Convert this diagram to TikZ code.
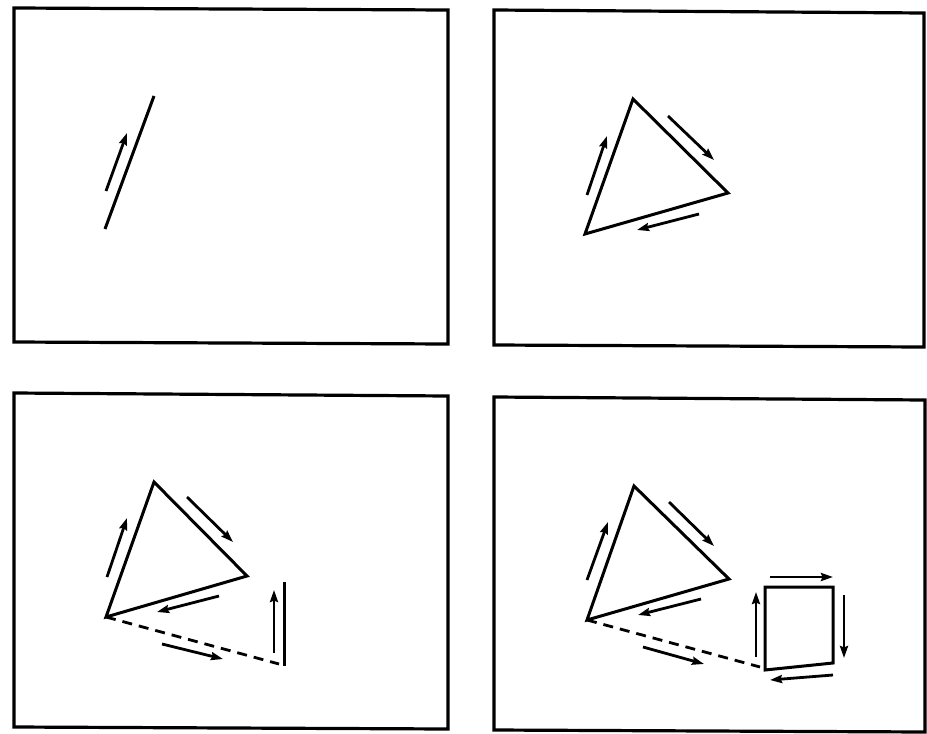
\documentclass[tikz,border=0pt]{standalone}
\usetikzlibrary{arrows.meta}
\begin{document}
\begin{tikzpicture}[x=1pt,y=-1pt,
  frame/.style={line width=3.2pt},
  figline/.style={line width=3pt,line join=miter},
  mv/.style={line width=2.8pt,-{Stealth[length=12pt,width=8pt,inset=1.5pt]}},
  dashline/.style={line width=2.8pt,dash pattern=on 10pt off 7pt}]
\useasboundingbox (0,0) rectangle (927,734);
% frames
\draw[frame] (14,8) -- (448,10) -- (448,344) -- (14,342) -- cycle;
\draw[frame] (494,10) -- (924,13) -- (924,347) -- (494,345) -- cycle;
\draw[frame] (14,393) -- (448,396) -- (448,729) -- (14,727) -- cycle;
\draw[frame] (494,397) -- (925,400) -- (925,732) -- (494,730) -- cycle;
% panel 1
\coordinate (p1a) at (105,229); \coordinate (p1b) at (154,96);
\draw[figline] (p1a) -- (p1b);
\coordinate (p1s) at (106,191); \coordinate (p1e) at (127,133);
\draw[mv] (p1s) -- (p1e);
% panel 2
\coordinate (t2a) at (633,99); \coordinate (t2b) at (728,193); \coordinate (t2c) at (585,234);
\draw[figline] (t2a) -- (t2b) -- (t2c) -- cycle;
\draw[mv] (587,195) -- (607,136);
\draw[mv] (668,116) -- (714,160);
\draw[mv] (699,214) -- (637,230);
% panel 3
\coordinate (t3a) at (154,482); \coordinate (t3b) at (247,576); \coordinate (t3c) at (106,617);
\draw[figline] (t3a) -- (t3b) -- (t3c) -- cycle;
\draw[mv] (107,577) -- (127,518);
\draw[mv] (187,497) -- (233,542);
\draw[mv] (219,596) -- (157,612);
\coordinate (d3) at (279,664);
\draw[dashline] (t3c) -- (d3);
\draw[mv] (162,644) -- (223,659);
\coordinate (v3a) at (284,582); \coordinate (v3b) at (284,666);
\draw[figline] (v3a) -- (v3b);
\draw[mv] (274,653) -- (274,590);
% panel 4
\coordinate (t4a) at (634,486); \coordinate (t4b) at (729,579); \coordinate (t4c) at (587,620);
\draw[figline] (t4a) -- (t4b) -- (t4c) -- cycle;
\draw[mv] (587,580) -- (608,522);
\draw[mv] (669,502) -- (714,546);
\draw[mv] (701,599) -- (638,615);
\coordinate (s4a) at (765,587); \coordinate (s4b) at (833,587);
\coordinate (s4c) at (833,663); \coordinate (s4d) at (765,670);
\draw[dashline] (t4c) -- (760,667);
\draw[mv] (643,647) -- (704,664);
\draw[figline] (s4a) -- (s4b) -- (s4c) -- (s4d) -- cycle;
\draw[mv] (770,577) -- (833,577);
\draw[mv] (844,595) -- (844,658);
\draw[mv] (833,675) -- (770,680);
\draw[mv] (756,657) -- (756,592);
\end{tikzpicture}
\end{document}
